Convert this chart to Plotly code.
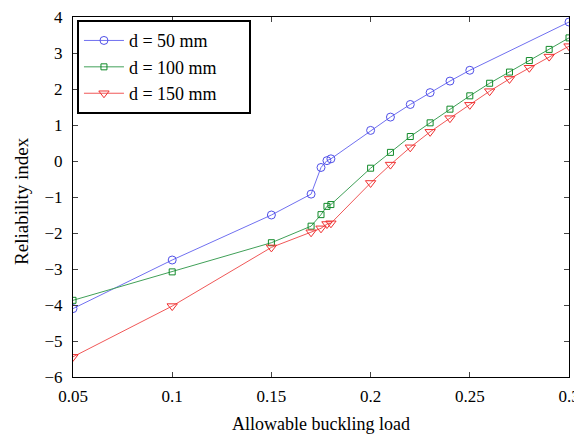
import plotly.graph_objects as go

x_blue = [0.05, 0.10, 0.15, 0.17, 0.175, 0.178, 0.18, 0.20, 0.21, 0.22, 0.23, 0.24, 0.25, 0.30]
y_blue = [-4.10, -2.75, -1.50, -0.92, -0.18, 0.01, 0.06, 0.85, 1.22, 1.57, 1.90, 2.22, 2.52, 3.86]

x_green = [0.05, 0.10, 0.15, 0.17, 0.175, 0.178, 0.18, 0.20, 0.21, 0.22, 0.23, 0.24, 0.25, 0.26, 0.27, 0.28, 0.29, 0.30]
y_green = [-3.87, -3.08, -2.27, -1.81, -1.49, -1.26, -1.21, -0.20, 0.24, 0.68, 1.06, 1.44, 1.81, 2.16, 2.47, 2.79, 3.10, 3.42]

x_red = [0.05, 0.10, 0.15, 0.17, 0.175, 0.178, 0.18, 0.20, 0.21, 0.22, 0.23, 0.24, 0.25, 0.26, 0.27, 0.28, 0.29, 0.30]
y_red = [-5.44, -4.03, -2.40, -1.98, -1.87, -1.75, -1.73, -0.61, -0.10, 0.38, 0.81, 1.19, 1.56, 1.94, 2.28, 2.59, 2.90, 3.19]

series_names = ["d = 50 mm", "d = 100 mm", "d = 150 mm"]

x_ticks = [0.05, 0.1, 0.15, 0.2, 0.25, 0.3]
y_ticks = [-6, -5, -4, -3, -2, -1, 0, 1, 2, 3, 4]

font = "Liberation Serif"
pad = "\u00a0" * 6

fig = go.Figure()
fig.add_trace(go.Scatter(x=x_blue, y=y_blue, mode="lines+markers", name=series_names[0] + pad,
                         line=dict(color="#7070f0", width=1),
                         marker=dict(symbol="circle-open", size=8, color="#5050e8", line=dict(width=1))))
fig.add_trace(go.Scatter(x=x_green, y=y_green, mode="lines+markers", name=series_names[1] + pad,
                         line=dict(color="#40a058", width=1),
                         marker=dict(symbol="square-open", size=6, color="#108a28", line=dict(width=1))))
fig.add_trace(go.Scatter(x=x_red, y=y_red, mode="lines+markers", name=series_names[2] + pad,
                         line=dict(color="#f05858", width=1),
                         marker=dict(symbol="triangle-down-open", size=9, color="#f03030", line=dict(width=1))))

# page body has an 8px offset; shrink the figure so the plot lands where the reference's does
fig.update_layout(
    width=574, height=430,
    margin=dict(l=65, r=13, t=9, b=61),
    plot_bgcolor="white", paper_bgcolor="white",
    font=dict(family=font, size=17, color="black"),
    showlegend=True,
    legend=dict(x=0.008, y=0.991, xanchor="left", yanchor="top",
                bgcolor="white", bordercolor="black", borderwidth=2,
                itemwidth=40,
                font=dict(family=font, size=18), tracegroupgap=0),
    xaxis=dict(range=[0.05, 0.3], tickvals=x_ticks, ticks="inside", ticklen=5,
               showline=True, linecolor="black", linewidth=1, mirror="ticks",
               showgrid=False, zeroline=False, automargin=False,
               ticklabelstandoff=4, ticklabeloverflow="allow",
               tickfont=dict(family=font, size=17)),
    yaxis=dict(range=[-6, 4], tickvals=y_ticks, ticks="inside", ticklen=5,
               showline=True, linecolor="black", linewidth=1, mirror="ticks",
               showgrid=False, zeroline=False, automargin=False,
               ticklabelstandoff=6, ticklabeloverflow="allow",
               tickfont=dict(family=font, size=17)),
    annotations=[
        dict(text="Allowable buckling load", x=0.5, y=-47 / 360.0,
             xref="paper", yref="paper", xanchor="center", yanchor="middle",
             showarrow=False, font=dict(family=font, size=18)),
        dict(text="Reliability index", x=(22 - 73) / 496.0, y=0.489,
             xref="paper", yref="paper", xanchor="center", yanchor="middle",
             textangle=-90, showarrow=False, font=dict(family=font, size=19)),
    ],
)

fig.write_html("out.html")
